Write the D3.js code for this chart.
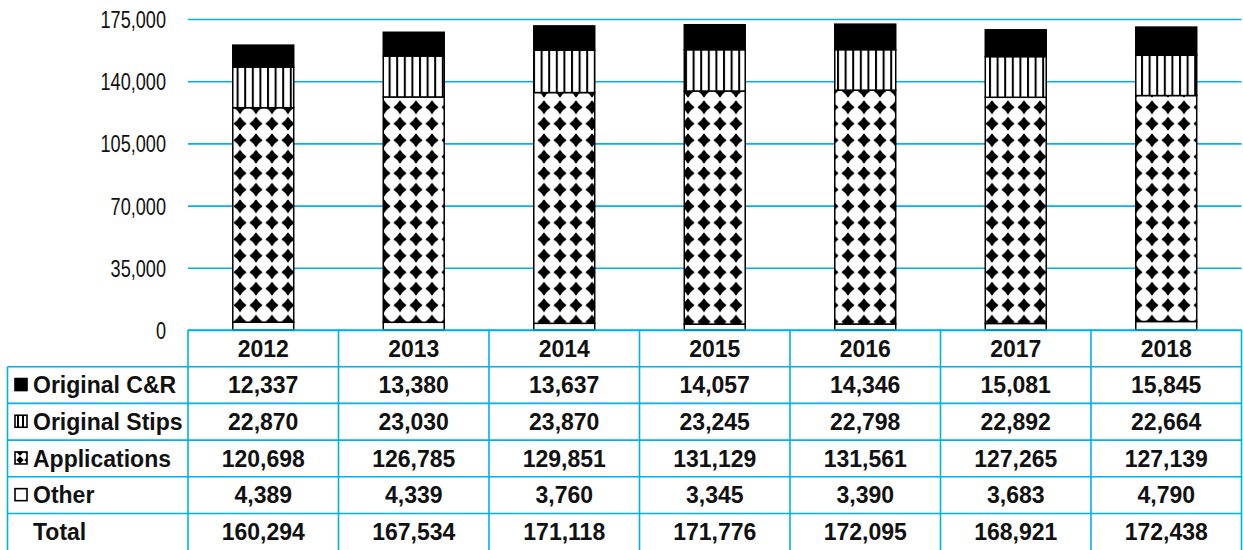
<!DOCTYPE html>
<html><head><meta charset="utf-8">
<script src="https://cdn.jsdelivr.net/npm/d3@7"></script>
<style>
html,body{margin:0;padding:0;background:#fff;}
svg{display:block;}
</style></head>
<body>
<svg id="chart" width="1243" height="550"></svg>
<script>
const years = ["2012","2013","2014","2015","2016","2017","2018"];
const originalCR = [12337,13380,13637,14057,14346,15081,15845];
const originalStips = [22870,23030,23870,23245,22798,22892,22664];
const applications = [120698,126785,129851,131129,131561,127265,127139];
const other = [4389,4339,3760,3345,3390,3683,4790];
const totals = [160294,167534,171118,171776,172095,168921,172438];
const yTicks = [0,35000,70000,105000,140000,175000];
const seriesNames = ["Original C&R","Original Stips","Applications","Other"];

(function(){
const blue = "#00B0F0";
const fmt = d3.format(",");
const svg = d3.select("#chart");

const pLeft = 188, pRight = 1241.5, pTop = 19, pBottom = 330;
const x = d3.scaleBand().domain(years).range([pLeft, pRight]).paddingInner(0.595).paddingOuter(0.2975);
const y = d3.scaleLinear().domain([0, 175000]).range([pBottom, pTop]);

// patterns
const defs = svg.append("defs");
const st = defs.append("pattern").attr("id","stripes").attr("patternUnits","userSpaceOnUse")
  .attr("width",7.6).attr("height",10).attr("x",1);
st.append("rect").attr("width",7.6).attr("height",10).attr("fill","#fff");
st.append("rect").attr("x",0).attr("width",2).attr("height",10).attr("fill","#000");

const dm = defs.append("pattern").attr("id","diamonds").attr("patternUnits","userSpaceOnUse")
  .attr("width",16).attr("height",16.5).attr("x",8).attr("y",0);
dm.append("rect").attr("width",16).attr("height",16.5).attr("fill","#fff");
dm.append("path").attr("d","M8,2.3 Q10.3,6 13.7,8.25 Q10.3,10.5 8,14.2 Q5.7,10.5 2.3,8.25 Q5.7,6 8,2.3Z")
  .attr("fill","#000").attr("stroke","#000").attr("stroke-width",1.4).attr("stroke-linejoin","round");

const dmS = defs.append("pattern").attr("id","diamondsSmall").attr("patternUnits","userSpaceOnUse")
  .attr("width",8).attr("height",8).attr("x",16).attr("y",0);
dmS.append("rect").attr("width",8).attr("height",8).attr("fill","#fff");
dmS.append("path").attr("d","M4,0.3 L7.7,4 L4,7.7 L0.3,4Z").attr("fill","#000");

const stS = defs.append("pattern").attr("id","stripesSmall").attr("patternUnits","userSpaceOnUse")
  .attr("width",5).attr("height",10).attr("x",15);
stS.append("rect").attr("width",5).attr("height",10).attr("fill","#fff");
stS.append("rect").attr("x",2).attr("width",2).attr("height",10).attr("fill","#000");

const fills = {"Original C&R":"#000","Original Stips":"url(#stripes)","Applications":"url(#diamonds)","Other":"#fff"};
const iconFills = {"Original C&R":"#000","Original Stips":"url(#stripesSmall)","Applications":"url(#diamondsSmall)","Other":"#fff"};

// gridlines + y axis
const yAxis = d3.axisLeft(y).tickValues(yTicks).tickFormat(fmt).tickSizeInner(-(pRight-pLeft)).tickSizeOuter(0).tickPadding(0);
const gy = svg.append("g").attr("transform",`translate(${pLeft},0)`).call(yAxis);
gy.select(".domain").remove();
gy.selectAll(".tick line").attr("stroke",blue).attr("stroke-width",1.6);
gy.selectAll(".tick text")
  .attr("font-family","'Liberation Sans',Arial,sans-serif")
  .attr("font-size",24.5).attr("fill","#111")
  .attr("x",0).attr("dy","0.35em")
  .attr("transform","translate(-22,0) scale(0.74,1)");

// stacked bars
const rows = years.map((yr,i)=>({year:yr,"Other":other[i],"Applications":applications[i],"Original Stips":originalStips[i],"Original C&R":originalCR[i]}));
const stack = d3.stack().keys(["Other","Applications","Original Stips","Original C&R"]);
const stacked = stack(rows);
const gb = svg.append("g");
stacked.forEach(layer=>{
  gb.append("g").selectAll("rect").data(layer).join("rect")
    .attr("x",d=>x(d.data.year))
    .attr("width",x.bandwidth())
    .attr("y",d=>y(d[1]))
    .attr("height",d=>y(d[0])-y(d[1]))
    .attr("fill",fills[layer.key])
    .attr("stroke","#000").attr("stroke-width",1.5);
});

// table
const rowH = 36.7;
const tableRows = [
  {name:"Original C&R", vals:originalCR, icon:true},
  {name:"Original Stips", vals:originalStips, icon:true},
  {name:"Applications", vals:applications, icon:true},
  {name:"Other", vals:other, icon:true},
  {name:"Total", vals:totals, icon:false}
];
const gt = svg.append("g");
const lineAttr = s=>s.attr("stroke",blue).attr("stroke-width",1.6);
gt.append("line").attr("x1",pLeft).attr("x2",pRight).attr("y1",pBottom).attr("y2",pBottom).call(lineAttr);
for(let r=1;r<=5;r++){
  gt.append("line").attr("x1",7.5).attr("x2",pRight).attr("y1",pBottom+r*rowH).attr("y2",pBottom+r*rowH).call(lineAttr);
}
gt.append("line").attr("x1",7.5).attr("x2",7.5).attr("y1",pBottom+rowH).attr("y2",550).call(lineAttr);
const colEdges = years.map(yr=>x(yr)-x.step()*x.paddingInner()/2).concat([pRight]);
colEdges.forEach(cx=>{
  gt.append("line").attr("x1",cx).attr("x2",cx).attr("y1",pBottom).attr("y2",550).call(lineAttr);
});
const tf = "'Liberation Sans',Arial,sans-serif";
gt.append("g").selectAll("text").data(years).join("text")
  .attr("x",d=>x(d)+x.bandwidth()/2).attr("y",pBottom+rowH/2).attr("dy","0.36em")
  .attr("text-anchor","middle").attr("font-family",tf).attr("font-weight","bold").attr("font-size",23).attr("fill","#111")
  .text(d=>d);
tableRows.forEach((row,ri)=>{
  const cy = pBottom+rowH*(ri+1)+rowH/2;
  if(row.icon){
    gt.append("rect").attr("x",15).attr("y",cy-6.5).attr("width",12).attr("height",12)
      .attr("fill",iconFills[row.name]).attr("stroke","#000").attr("stroke-width",1.6);
  }
  gt.append("text").attr("x",33).attr("y",cy).attr("dy","0.36em")
    .attr("font-family",tf).attr("font-weight","bold").attr("font-size",23).attr("fill","#111")
    .text(row.name);
  gt.append("g").selectAll("text").data(row.vals).join("text")
    .attr("x",(d,i)=>x(years[i])+x.bandwidth()/2).attr("y",cy).attr("dy","0.36em")
    .attr("text-anchor","middle").attr("font-family",tf).attr("font-weight","bold").attr("font-size",23).attr("fill","#111")
    .text(d=>fmt(d));
});
})();
</script>
</body></html>
